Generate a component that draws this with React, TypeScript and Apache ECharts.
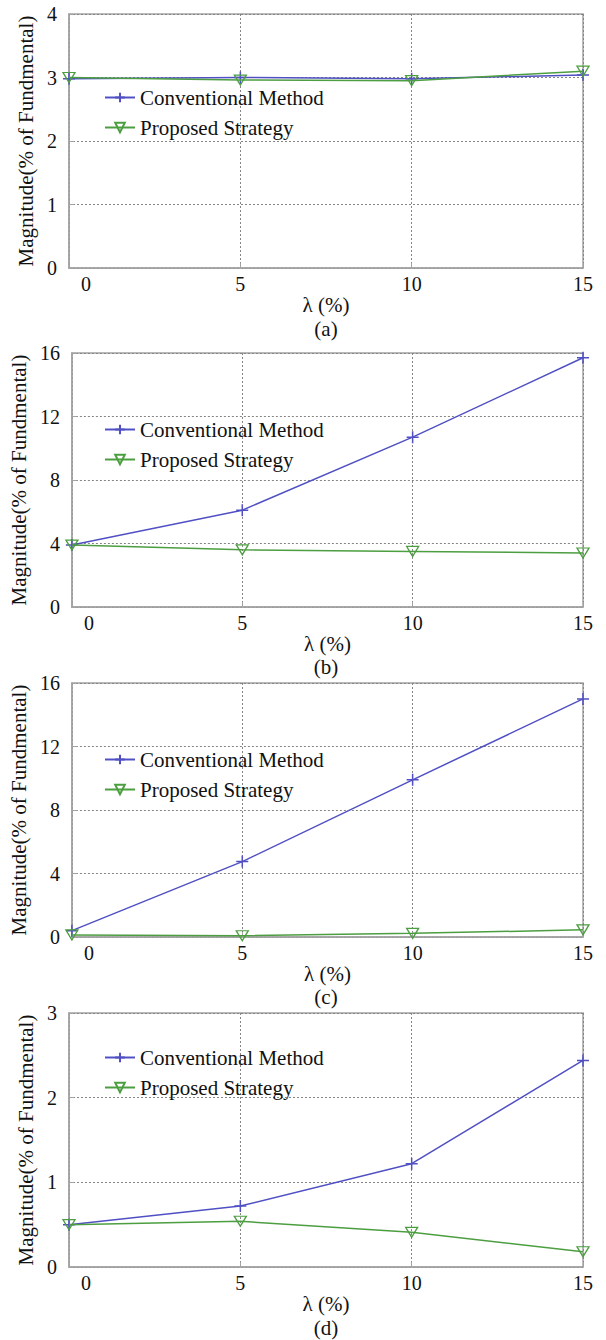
import React, { useEffect, useRef } from "react";
import * as echarts from "echarts";

const lambdaValues = [0, 5, 10, 15];
const xTicks = [0, 5, 10, 15];
const seriesNames = ["Conventional Method", "Proposed Strategy"];
const panelLabels = ["(a)", "(b)", "(c)", "(d)"];

const convA = [2.98, 3.0, 2.98, 3.04];
const propA = [3.0, 2.96, 2.95, 3.1];
const convB = [3.9, 6.1, 10.7, 15.7];
const propB = [3.9, 3.6, 3.5, 3.4];
const convC = [0.4, 4.75, 9.9, 15.0];
const propC = [0.13, 0.08, 0.23, 0.45];
const convD = [0.5, 0.72, 1.22, 2.44];
const propD = [0.5, 0.54, 0.41, 0.18];

const yMax = [4, 16, 16, 3];
const yStep = [1, 4, 4, 1];

const FONT = "Liberation Serif";
const BLUE = "#5050c4";
const GREEN = "#4c9e40";
const GRID_TOPS = [14, 353, 683, 1013];
const PLOT_H = 254;
const LEGEND_TOPS = [87, 419, 749, 1047];
const CAPTION_Y = [329, 667, 997, 1328];

const PLUS = "path://M0,5 L10,5 M5,0 L5,10";

export default function App() {
  const ref = useRef<HTMLDivElement>(null);
  useEffect(() => {
    document.body.style.margin = "0";
    if (!ref.current) return;
    const chart = echarts.init(ref.current, null, { renderer: "svg" });
    const conv = [convA, convB, convC, convD];
    const prop = [propA, propB, propC, propD];
    const grids: any[] = [];
    const xAxes: any[] = [];
    const yAxes: any[] = [];
    const series: any[] = [];
    const legends: any[] = [];
    const graphics: any[] = [];
    for (let i = 0; i < 4; i++) {
      grids.push({
        left: 69,
        right: 23,
        top: GRID_TOPS[i],
        height: PLOT_H,
        show: true,
        borderColor: "#a3a3a3",
        borderWidth: 1.5,
        backgroundColor: "#fff",
      });
      xAxes.push({
        type: "value",
        gridIndex: i,
        min: 0,
        max: 15,
        interval: 5,
        name: "λ (%)",
        nameLocation: "middle",
        nameGap: 20,
        nameTextStyle: { fontFamily: FONT, fontSize: 21, color: "#111" },
        axisLine: { show: true, lineStyle: { color: "#a3a3a3", width: 1.5 } },
        axisTick: { show: true, inside: true, length: 5, lineStyle: { color: "#a3a3a3" } },
        splitLine: { show: true, lineStyle: { color: "#858585", type: [2, 2], width: 1 } },
        axisLabel: {
          margin: 6,
          fontFamily: FONT,
          fontSize: 20,
          color: "#111",
          formatter: (v: number) => (v === xTicks[0] ? "{z|" + v + "}" : String(v)),
          rich: { z: { fontFamily: FONT, fontSize: 20, color: "#111", padding: [0, 0, 0, 34] } },
        },
      });
      yAxes.push({
        type: "value",
        gridIndex: i,
        min: 0,
        max: yMax[i],
        interval: yStep[i],
        name: "Magnitude(% of Fundmental)",
        nameLocation: "middle",
        nameRotate: 90,
        nameGap: 31,
        nameTextStyle: { fontFamily: FONT, fontSize: 21, color: "#111" },
        axisLine: { show: true, lineStyle: { color: "#a3a3a3", width: 1.5 } },
        axisTick: { show: true, inside: true, length: 5, lineStyle: { color: "#a3a3a3" } },
        splitLine: { show: true, lineStyle: { color: "#858585", type: [2, 2], width: 1 } },
        axisLabel: { margin: 12, fontFamily: FONT, fontSize: 20, color: "#111" },
      });
      series.push({
        name: seriesNames[0],
        type: "line",
        xAxisIndex: i,
        yAxisIndex: i,
        data: lambdaValues.map((x, k) => [x, conv[i][k]]),
        symbol: PLUS,
        symbolSize: 12,
        color: BLUE,
        lineStyle: { color: BLUE, width: 1.5 },
        itemStyle: { color: "none", borderColor: BLUE, borderWidth: 1.5 },
        z: 3,
      });
      series.push({
        name: seriesNames[1],
        type: "line",
        xAxisIndex: i,
        yAxisIndex: i,
        data: lambdaValues.map((x, k) => [x, prop[i][k]]),
        symbol: "triangle",
        symbolRotate: 180,
        symbolSize: [12, 10],
        color: GREEN,
        lineStyle: { color: GREEN, width: 1.5 },
        itemStyle: { color: "none", borderColor: GREEN, borderWidth: 1.3 },
        z: 4,
      });
      legends.push({
        data: seriesNames,
        orient: "vertical",
        left: 104,
        top: LEGEND_TOPS[i],
        padding: 0,
        itemWidth: 30,
        itemHeight: 12,
        itemGap: 9,
        selectedMode: false,
        textStyle: { fontFamily: FONT, fontSize: 21, color: "#111", lineHeight: 21 },
      });
      graphics.push({
        type: "text",
        x: 326,
        y: CAPTION_Y[i],
        style: {
          text: panelLabels[i],
          font: "21px " + FONT,
          fill: "#111",
          textAlign: "center",
          textVerticalAlign: "middle",
        },
      });
    }
    chart.setOption({
      animation: false,
      backgroundColor: "#fff",
      textStyle: { fontFamily: FONT },
      grid: grids,
      xAxis: xAxes,
      yAxis: yAxes,
      series,
      legend: legends,
      graphic: graphics,
    });
    return () => chart.dispose();
  }, []);
  return <div ref={ref} style={{ width: 606, height: 1340 }} />;
}
